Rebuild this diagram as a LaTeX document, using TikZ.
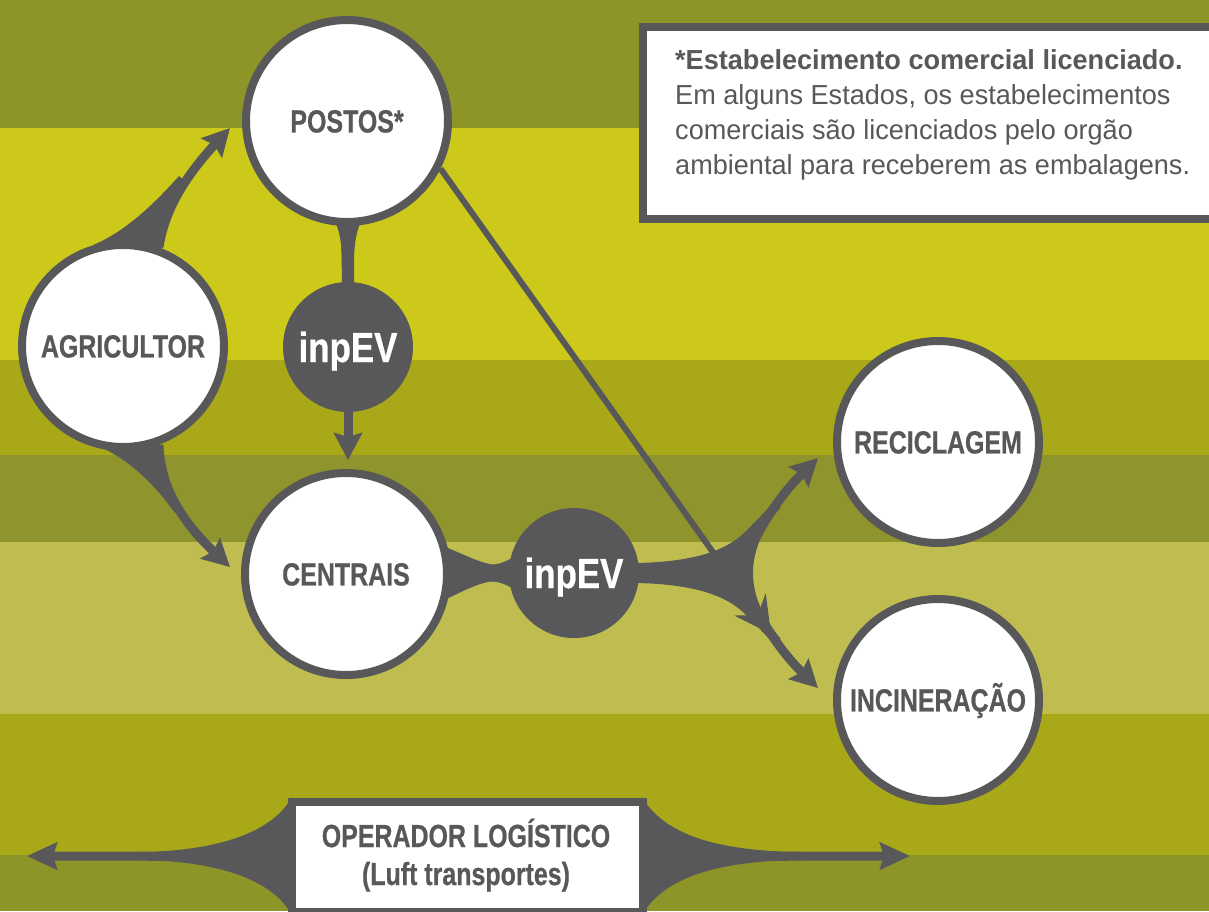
\documentclass[tikz,border=0pt]{standalone}
\usepackage{fontspec}
\newfontfamily\labfont{Liberation Sans}[FakeStretch=0.78, BoldFeatures={FakeBold=0.6}]
\newfontfamily\inpfont{Liberation Sans}[FakeStretch=0.83, BoldFeatures={FakeBold=0.6}]
\newfontfamily\boxfont{Liberation Sans}[FakeStretch=0.985]
\usetikzlibrary{arrows.meta}
\definecolor{gry}{HTML}{58585A}
\definecolor{bgolive}{HTML}{8E9528}
\definecolor{bgyellow}{HTML}{CDC91B}
\definecolor{bgmid}{HTML}{A9A819}
\definecolor{bgdark}{HTML}{8F942C}
\definecolor{bglight}{HTML}{C0BD50}
\pgfdeclarelayer{bglayer}
\pgfsetlayers{bglayer,main}
\begin{document}
\begin{tikzpicture}[x=1pt,y=-1pt,
  wcirc/.style={circle, draw=gry, line width=8pt, fill=white, minimum size=202pt,
    inner sep=0pt, text=gry, font=\labfont\bfseries\fontsize{32}{36}\selectfont,
    text height=22.9pt, text depth=0pt},
  dcirc/.style={circle, fill=gry, minimum size=130pt, inner sep=0pt, text=white,
    font=\inpfont\bfseries\fontsize{42}{46}\selectfont, text height=30pt, text depth=0pt},
  arrw/.style={draw=gry, line width=9pt, -{Stealth[length=27pt,width=28pt,inset=4pt]}},
  dblarrw/.style={draw=gry, line width=9pt, -{Stealth[length=30pt,width=27pt,inset=4pt]}},
  longarrw/.style={draw=gry, line width=6pt, -{Stealth[length=36pt,width=38pt,inset=13pt]}},
  flare/.style={fill=gry},
  boxnode/.style={draw=gry, line width=8pt, fill=white, inner sep=0pt},
  boxbold/.style={inner sep=0pt, anchor=base west, text=gry, font=\boxfont\bfseries\fontsize{27.5}{35}\selectfont},
  boxreg/.style={inner sep=0pt, anchor=base west, text=gry, font=\boxfont\fontsize{27.5}{35}\selectfont},
  optext/.style={inner sep=0pt, anchor=base, text=gry, font=\labfont\bfseries\fontsize{32}{36}\selectfont}
]
\useasboundingbox (0,0) rectangle (1209,911);
\clip (0,0) rectangle (1209,911);

% nodes
\node[wcirc] (agri) at (123,346) {AGRICULTOR};
\node[wcirc] (post) at (347,121) {POSTOS*};
\node[dcirc] (inpA) at (348,347) {inpEV};
\node[wcirc] (cent) at (346,574) {CENTRAIS};
\node[dcirc] (inpB) at (574,573) {inpEV};
\node[wcirc] (reci) at (938,442) {RECICLAGEM};
\node[wcirc] (inci) at (938,700) {INCINERAÇÃO};

% info box
\node[boxnode, minimum width=590pt, minimum height=192pt] (info) at (938,122.5) {};
\node[boxbold] (t1) at (675,69) {*Estabelecimento comercial licenciado.};
\node[boxreg] (t2) at (675,104) {Em alguns Estados, os estabelecimentos};
\node[boxreg] (t3) at (675,139) {comerciais são licenciados pelo orgão};
\node[boxreg] (t4) at (675,174) {ambiental para receberem as embalagens.};

% operador logistico box
\node[boxnode, minimum width=351pt, minimum height=110pt] (opbox) at (467,856.5) {};
\node[optext] (op1) at (466,847) {OPERADOR LOGÍSTICO};
\node[optext] (op2) at (466,885) {(Luft transportes)};

\coordinate (tipP) at (230,128);
\coordinate (tipC) at (230,567);
\coordinate (tipA) at (348,460);
\coordinate (fk) at (740,573);
\coordinate (tipR) at (818,458);
\coordinate (tipI) at (818,688);
\coordinate (ltip) at (771,634);
\coordinate (opL) at (27,856);
\coordinate (opR) at (910,856);

\begin{pgfonlayer}{bglayer}
% background stripes
\fill[bgolive] (0,0) rectangle (1209,128);
\fill[bgyellow] (0,128) rectangle (1209,360);
\fill[bgmid] (0,360) rectangle (1209,455);
\fill[bgdark] (0,455) rectangle (1209,542);
\fill[bglight] (0,542) rectangle (1209,714);
\fill[bgmid] (0,714) rectangle (1209,855);
\fill[bgolive] (0,855) rectangle (1209,911);

% agricultor -> postos
\fill[flare] (100,252) -- (93,245) .. controls (125,232) and (155,203) .. (179,176)
  -- (187,183) .. controls (172,200) and (161,225) .. (161,250) -- cycle;
\draw[arrw] (agri.70) .. controls (164,215) and (180,182) .. (tipP);
% agricultor -> centrais
\fill[flare] (105,442) -- (100,447) .. controls (130,460) and (155,485) .. (175,513)
  -- (181,507) .. controls (168,490) and (158,470) .. (158,442) -- cycle;
\draw[arrw] (agri.-70) .. controls (160,480) and (175,515) .. (tipC);
% postos -> inpEV
\fill[flare] (330,215) .. controls (340,225) and (342,245) .. (342,265) -- (342,290)
  -- (354,290) -- (354,265) .. controls (354,245) and (356,225) .. (366,215) -- cycle;
\draw[gry, line width=12pt] (post.south) -- (inpA.north);
% inpEV -> centrais
\draw[arrw] (inpA.south) -- (tipA);
% centrais -> inpEV
\fill[flare] (440,545) .. controls (462,553) and (478,563) .. (496,565) -- (496,581)
  .. controls (478,582) and (462,592) .. (440,602) -- cycle;
\fill[flare] (486,565) .. controls (498,565) and (506,562) .. (515,556) -- (515,590)
  .. controls (506,584) and (498,581) .. (486,581) -- cycle;
\draw[gry, line width=16pt] (cent.east) -- (inpB.west);
% inpEV -> fork -> reciclagem / incineracao
\fill[flare] (628,562) -- (636,563) .. controls (690,562) and (725,552) .. (745,532)
  .. controls (755,522) and (765,512) .. (773.5,502) -- (780.7,507.4)
  .. controls (765,525) and (753,548) .. (753,573)
  .. controls (753,598) and (765,621) .. (780.7,638.6) -- (773.5,644)
  .. controls (765,634) and (755,624) .. (745,614)
  .. controls (725,594) and (690,584) .. (636,583) -- (628,584) -- cycle;
\draw[gry, line width=16pt] (inpB.east) -- (fk);
\draw[arrw] (fk) .. controls (752,540) and (775,500) .. (tipR);
\draw[arrw] (fk) .. controls (752,606) and (775,646) .. (tipI);
% postos -> incineracao (long line)
\draw[longarrw] (post.-27) -- (ltip);
% operador logistico double arrow
\fill[flare] (140,852) .. controls (210,851) and (270,836) .. (292,797) -- (292,915)
  .. controls (270,876) and (210,861) .. (140,860) -- cycle;
\fill[flare] (642,797) .. controls (665,836) and (720,851) .. (800,852) -- (800,860)
  .. controls (720,861) and (665,876) .. (642,915) -- cycle;
\draw[dblarrw] (opbox.west) -- (opL);
\draw[dblarrw] (opbox.east) -- (opR);
\end{pgfonlayer}
\end{tikzpicture}
\end{document}
